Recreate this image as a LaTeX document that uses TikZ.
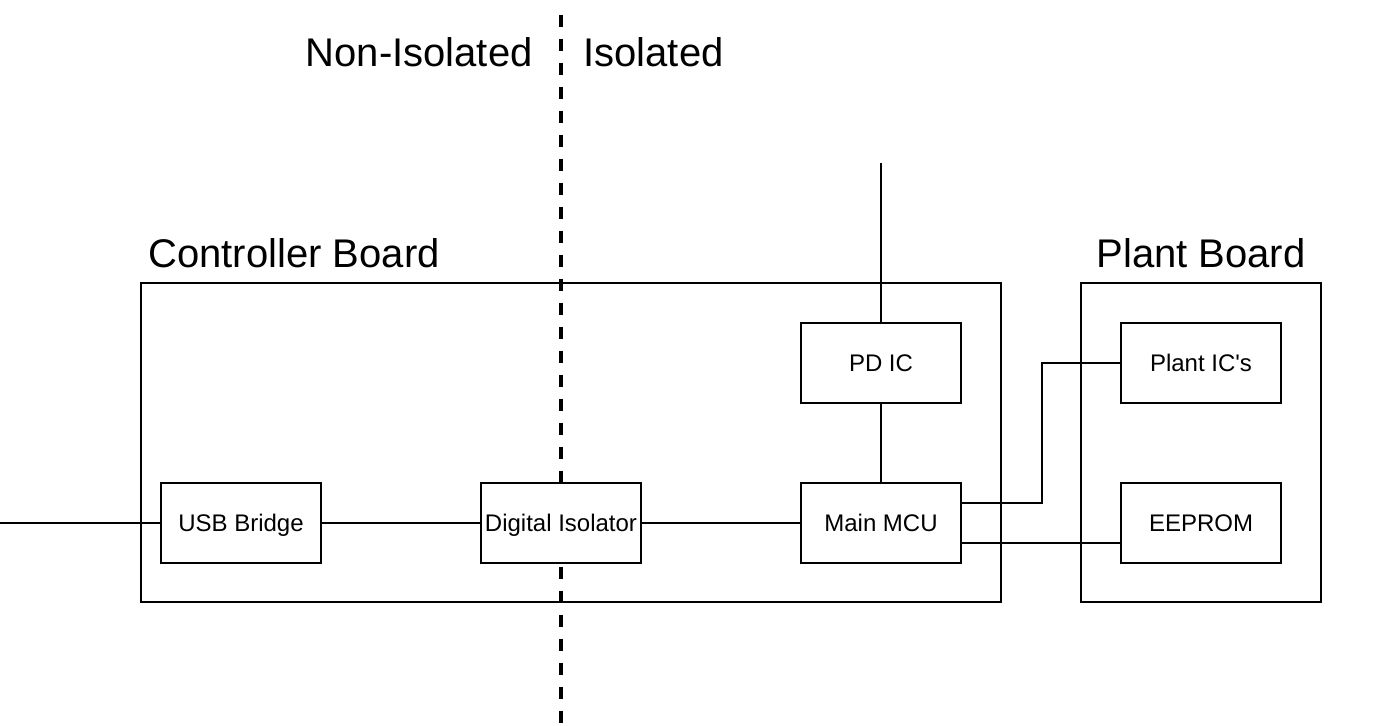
\documentclass[tikz,border=0pt]{standalone}
\usepackage{fontspec}
\setmainfont{Liberation Sans}
\usetikzlibrary{positioning,calc}

\tikzset{
  block/.style={draw, line width=1pt, fill=white, minimum width=80pt, minimum height=40pt, inner sep=1pt, text height=8.6pt, text depth=0pt, font=\fontsize{12}{14}\selectfont},
  board/.style={draw, line width=1pt},
  wire/.style={line width=1pt},
  bigtext/.style={font=\fontsize{20}{24}\selectfont, inner sep=0pt}
}

\begin{document}
\begin{tikzpicture}[x=0.5pt, y=-0.5pt]
\useasboundingbox (0,0) rectangle (1376,726);
% Isolation barrier
\draw[line width=2pt, dash pattern=on 6pt off 6pt] (561,15) -- (561,726);
\node[bigtext, anchor=base east] (noniso) at (533,67) {Non-Isolated};
\node[bigtext, anchor=base west] (iso) at (583,67) {Isolated};
% Boards
\draw[board] (141,283) rectangle (1001,602);
\draw[board] (1081,283) rectangle (1321,602);
\node[bigtext, anchor=base west] (ctrllabel) at (148,268) {Controller Board};
\node[bigtext, anchor=base] (plantlabel) at (1201,268) {Plant Board};
% Blocks
\node[block] (usb) at (241,523) {USB Bridge};
\node[block] (isolator) at (561,523) {Digital Isolator};
\node[block] (mcu) at (881,523) {Main MCU};
\node[block] (pd) at (881,363) {PD IC};
\node[block] (plantic) at (1201,363) {Plant IC\textquotesingle s};
\node[block] (eeprom) at (1201,523) {EEPROM};
% Connections
\coordinate (usbin) at (0,523);
\coordinate (pdin) at (881,163);
\draw[wire] (usbin) -- (usb);
\draw[wire] (usb) -- (isolator);
\draw[wire] (isolator) -- (mcu);
\draw[wire] (pd) -- (mcu);
\draw[wire] (pd) -- (pdin);
\draw[wire] ([yshift=10pt]mcu.east) -- ++(80,0) |- (plantic.west);
\draw[wire] ([yshift=-10pt]mcu.east) -- ([yshift=-10pt]eeprom.west);
\end{tikzpicture}
\end{document}
